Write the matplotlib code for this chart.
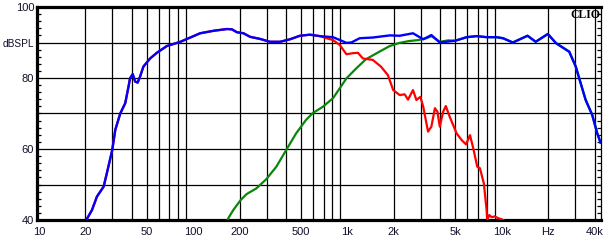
import numpy as np
import matplotlib
matplotlib.use("Agg")
import matplotlib.pyplot as plt
from matplotlib.ticker import FixedLocator, NullFormatter

# total response (blue)
blue_f = [19.5, 20.3, 22.1, 23.8, 26.3, 27.6, 29.9, 31.3, 33.7, 36.3, 38.1, 39.0, 40.6,
          42.1, 43.7, 45.3, 47.6, 52.6, 58.2, 67.5, 82.7, 111, 135.6, 166, 178.5, 192,
          212, 234, 272, 315, 366, 424, 492, 571, 662, 806, 892, 985, 1060, 1200, 1460,
          1880, 2180, 2660, 3100, 3500, 3970, 5000, 5930, 6880, 7980, 9240, 10200, 11800,
          14700, 16600, 19900, 22500, 27400, 30200, 32500, 35000, 38600, 41600, 43700]
blue_db = [38.5, 40.0, 42.8, 46.6, 49.4, 53.2, 59.7, 65.4, 70.0, 72.9, 77.5, 79.9, 81.1,
           79.0, 78.7, 80.4, 83.2, 85.5, 87.1, 89.0, 90.2, 92.6, 93.3, 93.8, 93.7, 92.9,
           92.6, 91.6, 91.0, 90.2, 90.2, 90.9, 91.9, 92.2, 91.8, 91.5, 90.7, 89.9, 90.0,
           91.2, 91.4, 92.0, 91.9, 92.6, 90.9, 92.1, 90.0, 90.5, 91.5, 91.8, 91.5, 91.5,
           91.2, 90.0, 91.9, 90.2, 92.4, 89.8, 87.4, 83.2, 78.5, 73.8, 69.6, 64.4, 61.8]

# woofer (red), follows the total up to ~660 Hz
red_f = [733, 806, 892, 985, 1090, 1170, 1260, 1460, 1650, 1830, 1980, 2180, 2350, 2470,
         2660, 2800, 2970, 3100, 3330, 3500, 3690, 3830, 3970, 4170, 4340, 4600, 5100,
         5500, 5870, 6230, 6540, 6940, 7220, 7660, 7980, 8050, 8300, 8600, 9000, 9500,
         10000, 10400]
red_db = [91.2, 90.7, 89.3, 86.7, 87.0, 87.1, 85.5, 85.1, 83.2, 80.8, 76.6, 75.2, 75.4,
          73.9, 76.6, 73.8, 74.7, 71.9, 64.9, 66.3, 71.5, 70.5, 66.3, 70.5, 72.1, 69.1,
          64.4, 62.5, 61.3, 63.9, 60.2, 55.0, 54.6, 50.3, 42.8, 40.0, 41.4, 40.8, 41.0,
          40.5, 40.2, 39.8]

# tweeter (green), follows the total above ~5 kHz
green_f = [165, 169, 182, 203, 222, 257, 298, 346, 401, 465, 539, 596, 693, 806, 892,
           985, 1140, 1320, 1610, 1880, 2180, 2500, 2900, 3300, 3500, 3970, 4500]
green_db = [39.5, 40.5, 42.8, 45.6, 47.3, 48.9, 51.5, 55.0, 59.7, 64.4, 68.2, 70.1, 71.9,
            74.3, 77.1, 79.9, 82.7, 85.3, 87.4, 89.0, 89.9, 90.4, 90.7, 91.3, 91.8, 90.2,
            90.6]

x_ticks = [10, 20, 50, 100, 200, 500, 1000, 2000, 5000, 10000, 20000, 40000]
x_labels = ['10', '20', '50', '100', '200', '500', '1k', '2k', '5k', '10k', 'Hz', '40k']
y_ticks = [40, 60, 80, 90, 100]
y_labels = ['40', '60', '80', 'dBSPL', '100']

split = blue_f.index(662) + 1
red_all_f = blue_f[:split] + red_f
red_all_db = blue_db[:split] + red_db
gstart = blue_f.index(5000)
green_all_f = green_f + blue_f[gstart:]
green_all_db = green_db + blue_db[gstart:]

fig = plt.figure(figsize=(6.09, 2.45), dpi=100)
ax = fig.add_axes([37 / 609, 1 - 220 / 245, (600.7 - 37) / 609, 213 / 245])
ax.set_xscale('log')
ax.set_xlim(9.73, 43800)
ax.set_ylim(40, 100)

grid_f = [d * m for d in (10, 100, 1000, 10000) for m in range(2, 10) if d * m <= 40000]
for f in grid_f:
    ax.axvline(f, color='black', lw=0.9, zorder=1)
for v in [50, 60, 70, 80, 90]:
    ax.axhline(v, color='black', lw=0.9, zorder=1)

ax.plot(green_all_f, green_all_db, color='#0a870a', lw=1.6, zorder=3, solid_joinstyle='round')
ax.plot(red_all_f, red_all_db, color='#ff0000', lw=1.6, zorder=4, solid_joinstyle='round')
ax.plot(blue_f, blue_db, color='#0000ff', lw=1.7, zorder=5, solid_joinstyle='round')

ax.xaxis.set_major_locator(FixedLocator(x_ticks))
ax.set_xticklabels(x_labels)
ax.xaxis.set_minor_locator(FixedLocator([]))
ax.xaxis.set_minor_formatter(NullFormatter())
ax.tick_params(axis='x', which='both', length=0, pad=5, labelsize=8, labelcolor='#10102a')

ax.yaxis.set_major_locator(FixedLocator(y_ticks))
ax.set_yticklabels(y_labels)
ax.yaxis.set_minor_locator(FixedLocator(list(range(42, 100, 2))))
ax.tick_params(axis='y', which='major', length=0, pad=2, labelsize=8, labelcolor='#10102a')
ax.tick_params(axis='y', which='minor', direction='in', length=3, width=0.9,
               left=True, right=True, color='black')

for s in ['left', 'bottom', 'top']:
    ax.spines[s].set_linewidth(2.3)
ax.spines['right'].set_linewidth(0.9)
for lab in ax.get_xticklabels() + ax.get_yticklabels():
    lab.set_family('Liberation Sans')
    if lab.get_text() == 'dBSPL':
        lab.set_fontsize(7.3)

ax.text(1.0, 0.99, 'CLIO', transform=ax.transAxes, ha='right', va='top',
        family='Liberation Serif', fontweight='bold', fontsize=8.5, color='black', zorder=6)

fig.savefig('out.png', dpi=100)
